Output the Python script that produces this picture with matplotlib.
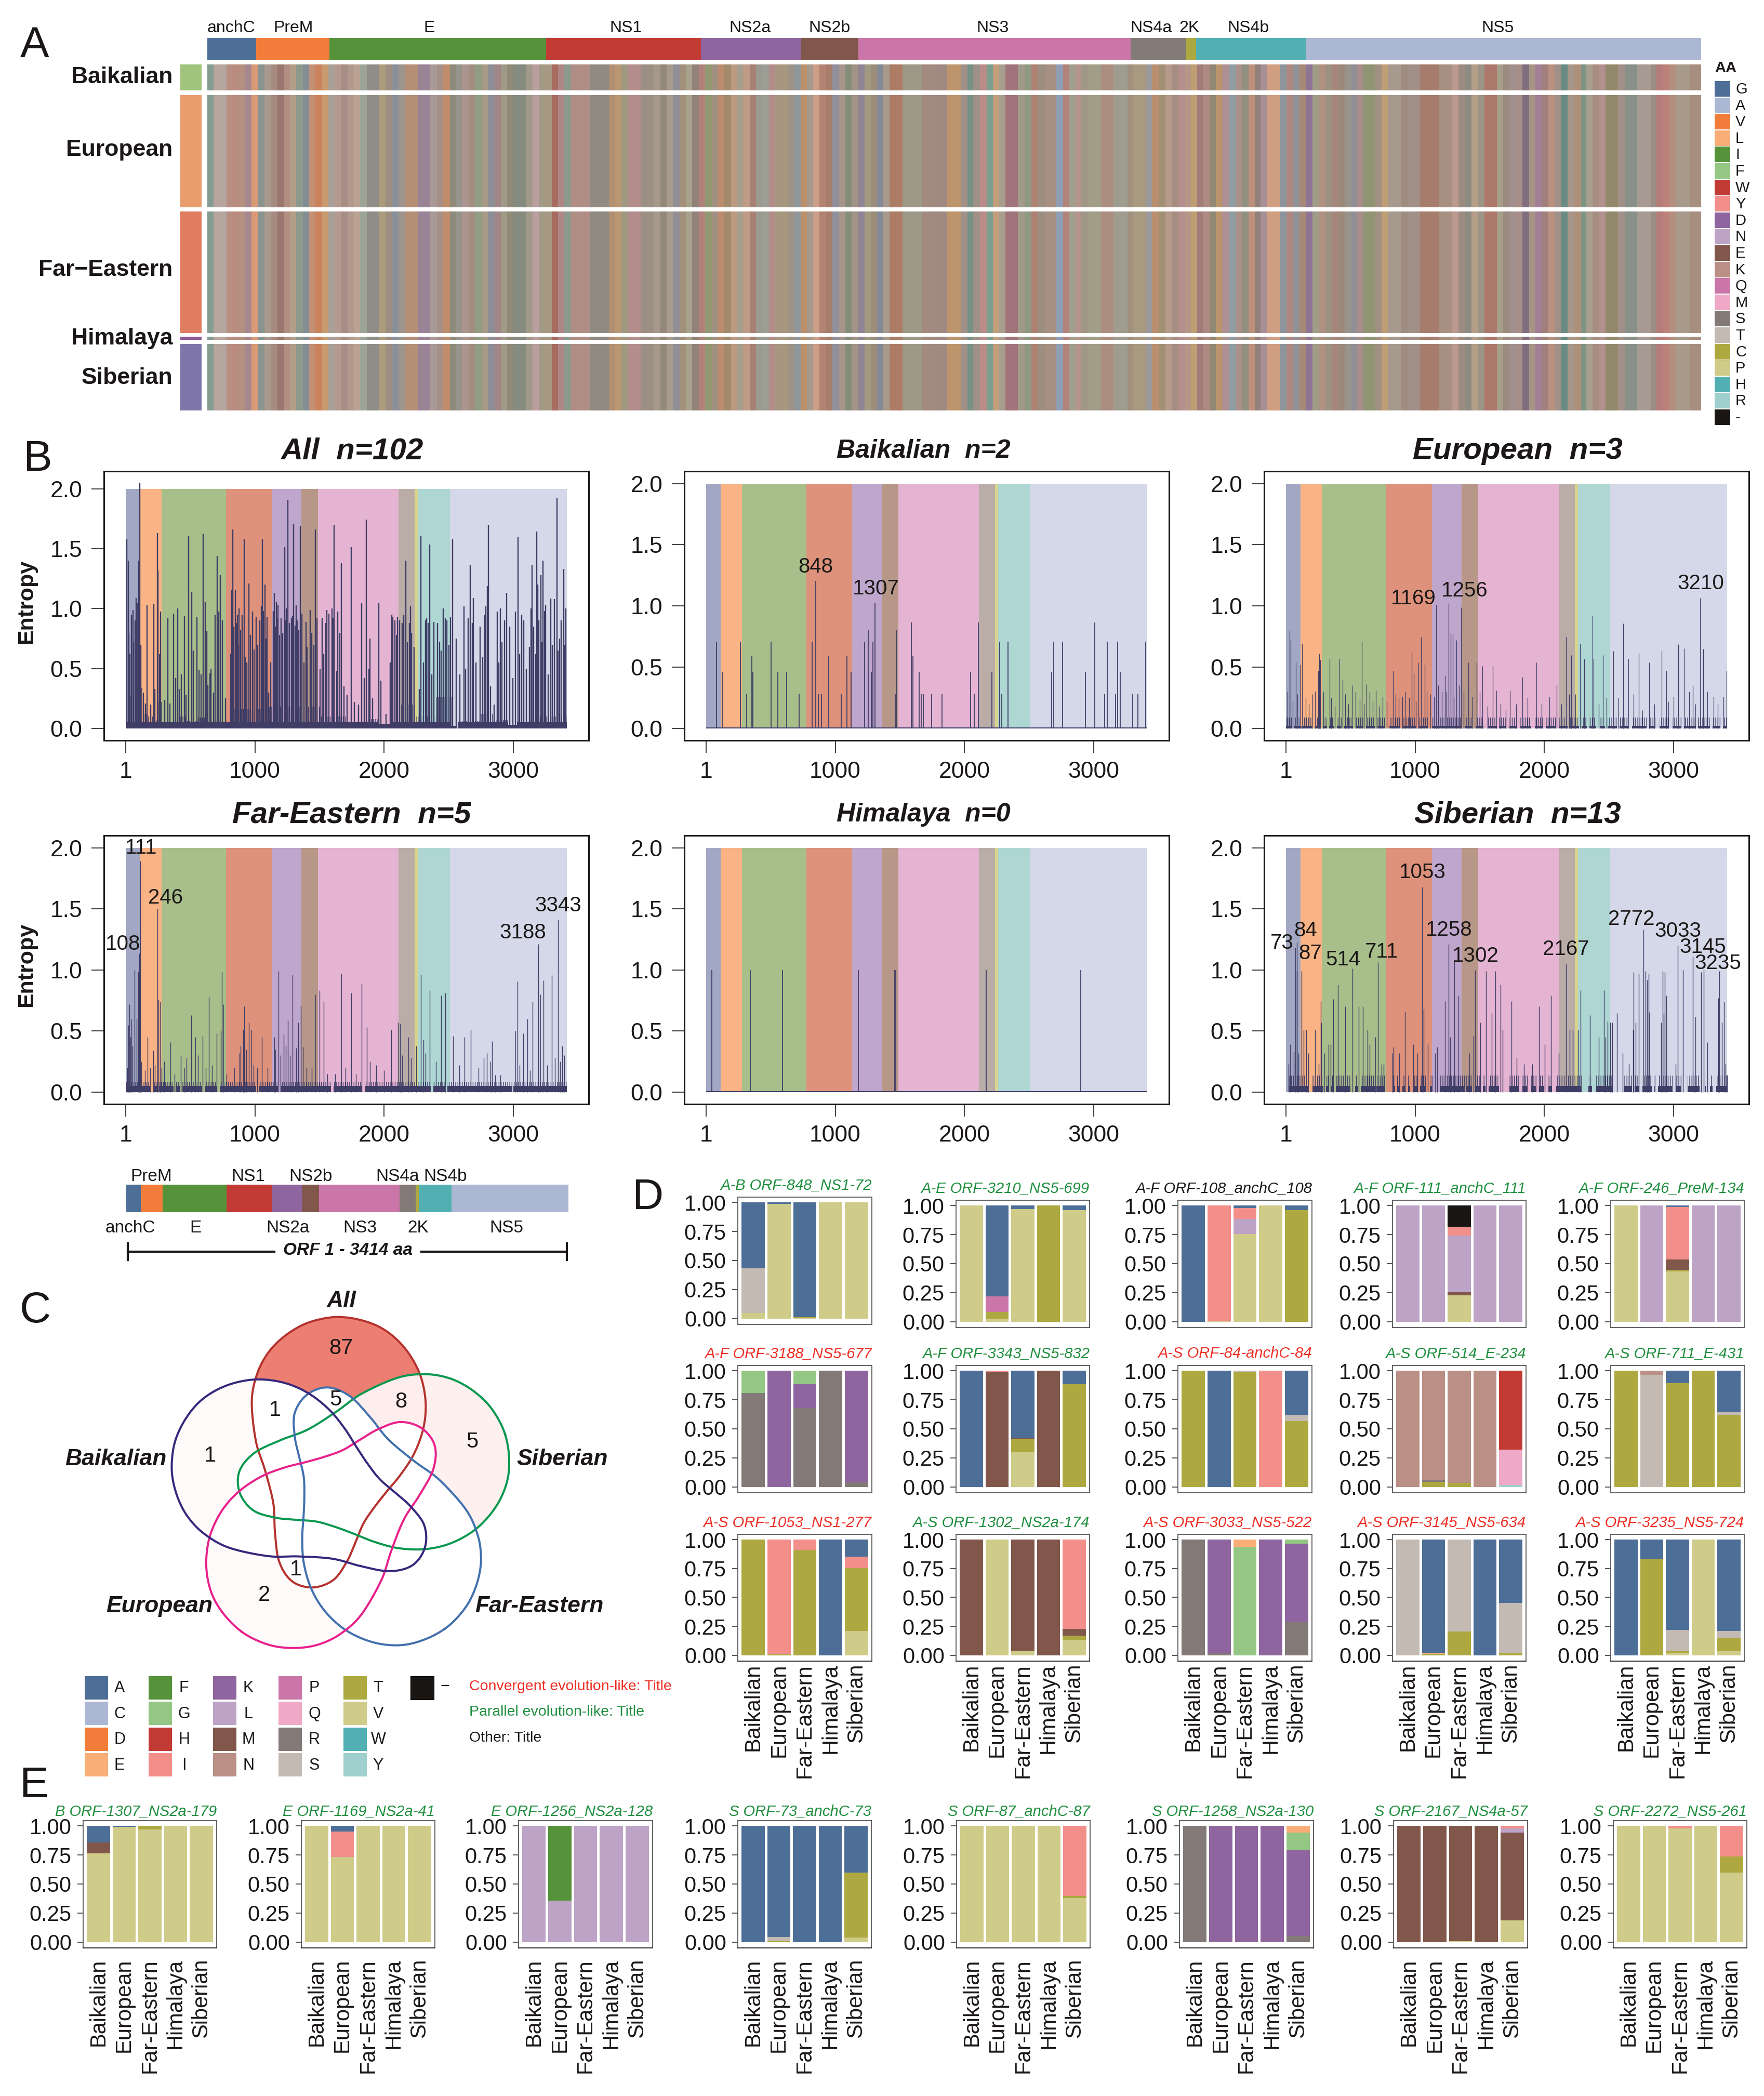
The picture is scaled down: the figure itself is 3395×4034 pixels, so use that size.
import numpy as np
import matplotlib
matplotlib.use('Agg')
import matplotlib.pyplot as plt
from matplotlib.colors import ListedColormap, to_rgba, to_rgb
from matplotlib.path import Path
from matplotlib.transforms import ScaledTranslation

plt.rcParams['font.family'] = ['Liberation Sans', 'DejaVu Sans']
plt.rcParams['hatch.linewidth'] = 1.0
W, H = 3395, 4034
INK = '#1a1716'

# genes
genes = ['anchC', 'PreM', 'E', 'NS1', 'NS2a', 'NS2b', 'NS3', 'NS4a', '2K', 'NS4b', 'NS5']
gene_end = [112, 280, 775, 1129, 1358, 1488, 2110, 2236, 2260, 2511, 3414]
gene_col = ['#4D6F97', '#F27D3B', '#55923A', '#C13A34', '#8E659E', '#81574C', '#CB76A8', '#837A78', '#ADA940', '#52B0B3', '#ACB7D3']
gene_soft = ['#A2A8C4', '#F9B384', '#A9BF8B', '#DE927B', '#BFA6CC', '#B79788', '#E4B4D2', '#BAADA8', '#D8D48C', '#AED6D3', '#D4D8E8']

# amino acid colours
aa_col = dict(A='#4D6F97', C='#ACB7D3', D='#F27D3B', E='#F9AE78', F='#55923A', G='#94C784', H='#C13A34', I='#F28F8B',
              K='#8E659E', L='#BDA3C6', M='#81574C', N='#BA8F86', P='#CB76A8', Q='#EFA8C6', R='#837A78', S='#C3BAB4',
              T='#ADA940', V='#CFCB89', W='#52B0B3', Y='#A0D0CD')
aa_col['-'] = '#1A1613'
aa_heat_order = list('GAVLIFWYDNEKQMSTCPHR-')

# panel A rows
lineages = ['Baikalian', 'European', 'Far\u2212Eastern', 'Himalaya', 'Siberian']
lineage_col = ['#A0C47C', '#E99D6C', '#E07C5F', '#8E5A96', '#7E75A8']

stripe_edges_a = [0,13,26,40,52,66,80,93,107,120,134,147,160,173,186,200,213,227,240,254,267,280,294,307,320,334,360,374,388,401,414,441,467,481,494,508,521,534,548,561,575,588,602,615,628,641,668,682,695,708,722,735,748,762,802,842,855,868,882,908,935,950,963,976,990,1003,1016,1030,1043,1057,1070,1083,1097,1110,1123,1137,1150,1163,1177,1190,1203,1216,1230,1243,1257,1270,1283,1297,1310,1324,1337,1350,1363,1377,1390,1404,1417,1430,1457,1497,1523,1550]
stripe_cols_a = ['#7E9E94','#BBAAA3','#B7A9A2','#B98F82','#BE8A7E','#B79080','#A5858F','#E49A74','#859590','#A89A90','#A8897F','#97716A','#B58C80','#B5A088','#889A8E','#7C8E94','#C98F72','#D07F52','#CE9C6C','#A9A19C','#B69A90','#A88C85','#B59B90','#BEA594','#9AA898','#8C8B88','#AE9E7A','#9A8E80','#85909E','#9D9490','#B78E72','#998099','#AA9A9A','#A58F88','#C48C68','#8A8A78','#94958E','#AD9691','#A08E80','#8D9F83','#A89A85','#898E98','#9F8487','#A09A88','#8D8A75','#7F8A7E','#A39A8A','#BDA0A4','#A39A88','#A89980','#A9645A','#B08585','#899B8E','#B28E85','#8C8A82','#B58F70','#BD9870','#9E9A80','#B78C8E','#9A8F84','#A69A8A','#8F8878','#A99D90','#8E8F98','#A39078','#A8A58C','#8F7F78','#B37F78','#8F9A6F','#A09080','#C08B6A','#A08A68','#C09C80','#A8A090','#C49C88','#A87E72','#9A9A90','#9AA098','#B68A8A','#A89880','#A8987E','#9A9386','#8D98A0','#BF9168','#A89A8C','#D2A088','#B67F6E','#A77A66','#8C8FA0','#A8968C','#7F8C78','#A09488','#8D8398','#A09A80','#9A8C78','#7F8698','#A89A8C','#AF7860','#9A9A88','#A3897E','#9E8880']
stripe_edges_b = [115,138,150,160,172,184,195,205,217,240,252,264,276,288,308,320,330,342,352,364,388,410,435,445,468,478,490,502,513,525,537,548,559,570,582,592,603,615,627,638,650,661,672,684,706,718,730,741,752,764,775,787,798,810,822,833,843,855,876,887,899,922,934,956,990,1012,1024,1035,1047,1058,1070,1092,1104,1116,1127,1138,1150,1161,1173,1184,1195,1206,1218,1230,1242,1252,1263,1275,1286,1308,1320,1342,1366,1376,1388,1400,1412,1436,1456]
stripe_cols_b = ['#C09668','#A09088','#6E9288','#9C9088','#BE8B8A','#75A090','#C8A078','#A8A090','#A06E78','#A09A8A','#8A9A80','#B07F70','#9A8F80','#A89080','#8BA0BE','#B48078','#A0A08E','#B8958F','#A09888','#A0A088','#AD8D80','#9E9E92','#A0907C','#A89C80','#9A9AA0','#BE8F6C','#A09070','#B89A8C','#A68C80','#B88F90','#B89888','#C4A070','#A07A78','#B08880','#8E8770','#BE9668','#B08F96','#8BA0A8','#A8918A','#8E9080','#C09078','#8E7C78','#A89098','#D8A080','#8894A0','#B08880','#8C9298','#A88878','#8A7098','#A09E88','#B29080','#9C9280','#A8847A','#9A8878','#97948C','#8C8F98','#A88E8C','#8C9470','#A09080','#C4A072','#A69A90','#9E8C80','#A09088','#A67868','#A89082','#C09A90','#9A8A80','#888A80','#B8A088','#9A9484','#AE7468','#A8A08A','#9A8A80','#A09090','#A88C88','#7A687E','#A89488','#A07C98','#A07C78','#BE9080','#A09088','#5E8A84','#A8988C','#B09078','#7A9484','#A8A090','#A88E80','#B59090','#8F8868','#A09088','#84908A','#A69C94','#9A8C84','#B87878','#C07E78','#B88F7C','#A89C8C','#A88E7E']

# panel B, (position, entropy) for spikes and (start, end, height) for the dense base
all_spikes = [(109,2.05),(7,1.58),(19,1.40),(56,.99),(81,1.09),(100,1.40),(106,1.2),(247,1.63),(167,1.03),(217,1.04),(250,1.32),(272,.975),(327,.925),(371,.96),(401,1.0),(457,.94),(488,1.61),(512,1.14),(552,.93),(599,1.62),(614,1.06),(629,.81),(709,1.44),(691,.95),(722,.975),(734,1.28),(654,.46),(820,1.155),(829,1.66),(848,1.155),(864,.95),(879,1.0),(916,1.58),(953,1.21),(980,.975),(1011,.93),(1051,1.02),(1060,1.58),(1079,1.2),(1094,.93),(1150,1.13),(1168,1.06),(1180,1.03),(1230,1.515),(1257,1.91),(1245,1.0),(1282,.92),(1301,1.71),(1319,1.03),(1353,1.69),(1396,.89),(1427,.99),(1470,1.66),(1519,.92),(1556,.99),(1596,1.0),(1615,1.70),(1642,.975),(1670,1.38),(1747,1.515),(1827,1.05),(1864,1.745),(1889,.75),(1957,1.05),(2059,.95),(2105,.93),(2166,1.40),(2203,1.02),(2286,1.61),(2330,.92),(2354,1.535),(2385,.89),(2428,.725),(2459,1.0),(2514,.93),(2530,1.58),(2557,.75),(2619,1.02),(2668,1.36),(2690,1.09),(2788,1.02),(2807,1.70),(2801,1.19),(2875,.975),(2899,1.0),(2948,1.13),(3016,.975),(3035,1.60),(3065,.95),(3145,1.36),(3179,1.645),(3188,1.2),(3213,1.28),(3231,1.40),(3250,1.03),(3290,1.085),(3339,1.92),(3358,.75),(3389,1.33),(3407,1.0),
    (24,.8),(33,.62),(47,.95),(63,.72),(72,.9),(91,1.05),(118,.7),(137,.3),(152,.21),(193,.2),(226,.33),(262,.62),(301,.24),(344,.21),(388,.42),(415,.33),(433,.45),(468,.28),(524,.65),(566,.49),(583,.45),(638,.36),(662,.5),(681,.3),(748,.9),(771,.25),(812,.62),(838,.85),(857,.88),(871,.7),(889,.82),(903,.95),(925,.6),(938,.55),(967,.78),(994,.66),(1022,.7),(1037,.9),(1068,.98),(1087,.75),(1106,.3),(1122,.55),(1141,.98),(1159,.85),(1172,.92),(1191,.78),(1203,.92),(1216,.8),(1238,.9),(1268,.88),(1291,.94),(1310,.86),(1328,.9),(1341,.82),(1362,.96),(1378,.55),(1404,.68),(1439,.8),(1456,.7),(1482,.92),(1503,.5),(1531,.62),(1548,.88),(1573,.96),(1604,.92),(1632,.48),(1658,.8),(1689,.35),(1712,.28),(1768,.22),(1803,.2),(1846,.42),(1881,.5),(1912,.25),(1976,.4),(2014,.12),(2046,.55),(2068,.93),(2082,.9),(2094,.78),(2121,.9),(2138,.88),(2152,.95),(2179,.72),(2196,.88),(2214,.8),(2231,.68),(2271,.33),(2303,.55),(2322,.9),(2341,.88),(2368,.45),(2412,.88),(2441,.65),(2472,.92),(2486,.9),(2502,.7),(2586,.45),(2632,.5),(2651,.92),(2682,.88),(2712,.55),(2741,.85),(2763,.6),(2778,.95),(2822,.35),(2853,.2),(2886,.55),(2913,.72),(2931,.9),(2972,.85),(2996,.42),(3047,.62),(3082,.9),(3101,.5),(3124,.68),(3137,1.0),(3156,.85),(3171,.62),(3199,.9),(3222,.72),(3241,.98),(3268,.45),(3302,.7),(3318,1.08),(3346,.65),(3371,.9),(3398,.7)]
all_base = [(1,40,.27),(40,130,.34),(130,170,.12),(170,210,.1),(210,250,.07),(250,285,.22),(285,410,.05),(410,470,.1),(470,560,.06),(560,620,.09),(620,810,.05),(810,1110,.16),(1110,1500,.18),(1500,1700,.1),(1700,1850,.05),(1850,1950,.08),(1950,2050,.04),(2050,2240,.2),(2240,2400,.1),(2400,2520,.26),(2520,2560,.02),(2570,2750,.06),(2750,2850,.12),(2850,2960,.07),(2960,3030,.03),(3030,3120,.05),(3120,3414,.1)]
baik_spikes = [(81,.71),(124,.46),(268,.71),(316,.28),(353,.595),(364,.46),(502,.71),(556,.46),(625,.46),(721,.28),(822,.71),(849,1.205),(870,.28),(892,.28),(950,.595),(1046,.28),(1089,.595),(1121,.46),(1228,.71),(1254,.8),(1281,.46),(1292,.71),(1308,1.026),(1468,.28),(1473,.8),(1590,.865),(1601,.595),(1649,.46),(1665,.28),(1681,.28),(1745,.28),(1825,.28),(2049,.46),(2076,.28),(2107,.865),(2214,.46),(2273,.71),(2289,.28),(2337,.71),(2673,.46),(2689,.71),(2758,.71),(2934,.46),(3009,.865),(3084,.28),(3105,.71),(3169,.28),(3185,.71),(3206,.46),(3303,.28),(3340,.28),(3403,.71)]
thin_base = [(1,3414,.008)]
euro_spikes = [(28,.80),(38,.72),(76,.54),(108,.52),(124,.69),(257,.61),(268,.56),(250,.47),(337,.57),(412,.57),(438,.40),(513,.35),(588,.71),(625,.36),(695,.31),(748,.26),(828,.47),(903,.26),(972,.62),(988,.45),(1025,.54),(1046,.745),(1073,.52),(1164,1.01),(1260,1.023),(1276,.77),(1292,.77),(1319,.72),(1233,.43),(1356,.99),(1414,.54),(1478,.54),(1521,.51),(1601,.51),(1628,.31),(1735,.31),(1830,.42),(1937,.54),(2097,.35),(2166,.745),(2210,.6),(2278,.69),(2310,.57),(2379,.57),(2374,.92),(2454,.6),(2534,.63),(2609,.856),(2651,.57),(2731,.61),(2811,.54),(2907,.63),(2944,.47),(3036,.685),(3079,.655),(3148,.35),(3206,1.066),(3228,.65),(3308,.26),(3388,.26),(3409,.47),
    (14,.3),(52,.22),(88,.28),(152,.25),(178,.2),(205,.28),(228,.3),(290,.3),(352,.25),(378,.18),(460,.28),(482,.2),(540,.3),(570,.24),(605,.2),(650,.3),(672,.22),(722,.18),(780,.22),(848,.28),(872,.25),(925,.3),(955,.25),(1005,.22),(1090,.3),(1120,.28),(1145,.26),(1180,.35),(1205,.3),(1245,.3),(1300,.25),(1340,.35),(1375,.3),(1440,.26),(1500,.3),(1560,.18),(1660,.2),(1700,.15),(1780,.2),(1870,.25),(1980,.2),(2040,.26),(2130,.2),(2190,.28),(2240,.28),(2420,.2),(2480,.25),(2570,.25),(2690,.28),(2760,.15),(2850,.2),(2960,.22),(3000,.26),(3120,.3),(3170,.2),(3260,.3),(3340,.2)]
euro_base = [(a,b,.09) for a,b in [(1,50),(60,120),(135,200),(225,255),(285,320),(335,370),(395,430),(450,520),(540,600),(620,690),(710,770),(800,880),(900,1010),(1030,1100),(1130,1360),(1385,1440),(1470,1530),(1560,1630),(1650,1700),(1730,1790),(1815,1900),(1925,1990),(2010,2090),(2110,2180),(2200,2270),(2290,2330),(2350,2400),(2430,2470),(2490,2560),(2580,2650),(2680,2790),(2810,2860),(2890,2960),(2990,3060),(3080,3170),(3190,3280),(3300,3360),(3380,3414)]]
fe_spikes = [(28,.72),(45,.6),(70,1.0),(97,.985),(107,1.137),(112,1.89),(171,.45),(212,.34),(246,1.50),(256,.756),(268,.74),(347,.41),(427,.30),(506,.627),(538,.45),(597,.46),(644,.776),(703,.48),(745,.98),(735,.5),(756,.72),(890,.38),(910,.51),(916,.70),(953,.57),(974,.51),(1054,.45),(1150,.45),(1182,.99),(1225,.47),(1256,.585),(1293,.96),(1336,.57),(1357,.705),(1373,.37),(1469,.80),(1501,.835),(1533,.74),(1671,.97),(1745,.81),(1825,.89),(1868,.53),(2054,.51),(2107,.57),(2123,.56),(2187,.45),(2283,.96),(2304,.43),(2352,.835),(2443,.79),(2474,.81),(2533,.46),(2623,.45),(2670,.51),(2836,.415),(2795,.32),(2822,.25),(3017,.5),(3032,.907),(3075,.48),(3107,.6),(3149,.74),(3192,1.21),(3208,.80),(3235,.914),(3298,.958),(3346,1.41),(3378,.38),(3394,.30),
    (12,.2),(20,.55),(36,.45),(55,.38),(85,.6),(120,.25),(150,.18),(190,.2),(228,.22),(280,.2),(300,.25),(380,.15),(455,.2),(470,.28),(560,.3),(620,.2),(670,.22),(780,.15),(840,.2),(880,.32),(935,.35),(990,.22),(1020,.2),(1100,.2),(1160,.35),(1200,.3),(1240,.38),(1270,.3),(1320,.36),(1400,.2),(1440,.2),(1560,.15),(1620,.15),(1700,.2),(1780,.15),(1890,.25),(1940,.22),(2000,.18),(2140,.3),(2210,.28),(2250,.38),(2320,.32),(2400,.25),(2580,.22),(2730,.2),(2770,.28),(2860,.14),(2900,.14),(3050,.22),(3130,.18),(3260,.22),(3320,.28),(3360,.25)]
fe_base = [(a,b,.085) for a,b in [(1,100),(112,190),(215,250),(260,370),(385,425),(440,590),(610,710),(730,1010),(1030,1180),(1200,1590),(1610,1830),(1850,2360),(2380,2470),(2490,2990),(3000,3414)]]
hima_spikes = [(44,1.0),(341,1.0),(591,1.0),(1177,1.0),(1459,1.0),(1470,1.0),(2166,1.0),(2900,1.0)]
sib_spikes = [(21,.23),(35,.39),(60,.33),(73,1.18),(84,1.23),(87,.99),(98,.32),(122,.99),(136,.51),(158,.51),(172,.32),(225,.51),(256,.23),(270,.745),(274,.57),(298,.32),(330,.39),(347,.39),(366,.76),(402,.88),(458,.70),(562,.70),(517,1.01),(596,.70),(632,.51),(648,.39),(691,.45),(714,1.064),(740,.23),(757,.23),(824,.32),(832,.37),(879,.32),(921,.66),(985,.39),(1019,.32),(1056,1.68),(1068,.68),(1100,.39),(1155,.32),(1169,.37),(1230,.745),(1259,1.21),(1273,.45),(1304,1.085),(1334,.79),(1420,.32),(1452,.46),(1466,1.0),(1505,.57),(1550,.99),(1592,.645),(1620,.99),(1660,.88),(1677,.51),(1747,.745),(1786,.28),(1843,.23),(1905,.23),(1958,.70),(2005,.39),(2053,.79),(2110,.32),(2168,1.05),(2195,.51),(2222,.51),(2260,.51),(2280,.834),(2353,.63),(2420,.45),(2463,.834),(2490,.58),(2475,.45),(2508,.57),(2524,.57),(2561,.645),(2606,.32),(2655,.23),(2687,.51),(2690,.98),(2708,.57),(2732,.97),(2768,1.33),(2782,.99),(2793,.92),(2807,.97),(2810,.655),(2903,.57),(2917,.99),(2931,.98),(2942,.79),(2923,.645),(3018,.23),(3032,1.2),(3074,1.0),(3147,1.11),(3167,.615),(3212,.98),(3232,1.0),(3262,.41),(3344,.77),(3355,.99),(3372,.57),(3391,.74),(3402,.23),(3414,.14)]
sib_base = [(a,b,.135) for a,b in [(25,170),(205,290),(310,335),(345,375),(385,500),(535,560),(580,690),(700,770),(830,845),(860,880),(900,925),(945,960),(985,1020),(1040,1085),(1115,1135),(1190,1385),(1395,1440),(1465,1510),(1525,1545),(1570,1650),(1730,1800),(1830,1870),(1900,1940),(1960,2000),(2030,2060),(2090,2290),(2340,2370),(2400,2530),(2620,2680),(2700,2730),(2760,2830),(2850,2860),(2880,2990),(3020,3060),(3110,3200),(3240,3250),(3280,3300),(3330,3414)]]

entropy_titles = ['All  n=102', 'Baikalian  n=2', 'European  n=3', 'Far-Eastern  n=5', 'Himalaya  n=0', 'Siberian  n=13']
entropy_spikes = [all_spikes, baik_spikes, euro_spikes, fe_spikes, hima_spikes, sib_spikes]
entropy_base = [all_base, thin_base, euro_base, fe_base, thin_base, sib_base]
base_solid = [.05, .008, .02, .05, .008, .05]
spike_lw = [1.7, 1.3, .9, 1.0, 1.3, 1.0]
entropy_labels = [
    [],
    [('848',849,1.32),('1307',1313,1.14)],
    [('1169',987,1.062),('1256',1382,1.122),('3210',3211,1.184)],
    [('111',118,1.996),('108',-20,1.21),('246',310,1.59),('3188',3075,1.305),('3343',3346,1.525)],
    [],
    [('73',-30,1.22),('84',150,1.32),('87',189,1.136),('514',442,1.085),('711',742,1.147),('1053',1057,1.80),('1258',1262,1.326),('1302',1467,1.115),('2167',2167,1.168),('2772',2672,1.416),('3033',3035,1.317),('3145',3226,1.187),('3235',3344,1.055)],
]

# stacked bars, one list per site: for each lineage (residue, lower edge) from the top down
groups = ['Baikalian', 'European', 'Far-Eastern', 'Himalaya', 'Siberian']
GREEN, RED, BLACK = '#1F8F3E', '#EE2E24', '#1a1716'
V, L, M, T, A, R, K, N = [('V',0)], [('L',0)], [('M',0)], [('T',0)], [('A',0)], [('R',0)], [('K',0)], [('N',0)]
orf848 = [[('A',.431),('S',.047),('V',0)], [('A',.988),('V',0)], [('A',.012),('T',.004),('V',0)], V, V]
orf3210 = [V, [('A',.219),('P',.084),('T',.028),('V',0)], [('A',.969),('V',0)], T, [('A',.96),('V',0)]]
orf108 = [A, [('I',.01),('V',0)], [('A',.978),('I',.884),('L',.753),('V',0)], V, [('A',.96),('T',0)]]
orf111 = [L, L, [('-',.815),('I',.74),('L',.256),('M',.225),('V',0)], L, L]
orf246 = [V, L, [('A',.988),('I',.534),('M',.447),('T',.434),('V',0)], L, L]
orf3188 = [[('G',.809),('R',0)], K, [('G',.884),('K',.68),('R',0)], R, [('K',.038),('R',0)]]
orf3343 = [A, [('I',.988),('M',0)], [('A',.42),('M',.41),('T',.298),('V',0)], M, [('A',.884),('T',0)]]
orf84 = [T, A, [('S',.988),('T',0)], [('I',0)], [('A',.62),('S',.567),('T',0)]]
orf514 = [N, [('N',.056),('R',.044),('T',0)], [('N',.034),('T',0)], N, [('H',.32),('Q',.016),('Y',0)]]
orf711 = [T, [('N',.965),('S',0)], [('A',.893),('T',0)], T, [('A',.643),('S',.62),('T',0)]]
orf1053 = [T, [('I',.012),('T',0)], [('I',.909),('T',0)], A, [('A',.85),('I',.755),('T',.21),('V',0)]]
orf1302 = [M, V, [('M',.04),('V',0)], M, [('I',.229),('M',.169),('T',.135),('V',0)]]
orf3033 = [R, [('K',.022),('R',0)], [('E',.937),('G',0)], K, [('G',.962),('K',.288),('R',0)]]
orf3145 = [[('S',0)], [('A',.022),('E',.012),('T',0)], [('S',.207),('T',0)], A, [('A',.451),('S',.022),('T',0)]]
orf3235 = [A, [('A',.83),('T',0)], [('A',.219),('S',.034),('T',.022),('V',0)], V, [('A',.21),('S',.15),('T',.034),('V',0)]]
orf1307 = [[('A',.857),('M',.762),('V',0)], [('A',.99),('V',0)], [('T',.968),('V',0)], V, V]
orf1169 = [V, [('A',.952),('I',.73),('V',0)], V, V, V]
orf1256 = [L, [('F',.357),('L',0)], L, L, L]
orf73 = [A, [('A',.043),('S',.01),('T',0)], A, A, [('A',.6),('T',.038),('V',0)]]
orf87 = [V, V, V, V, [('I',.398),('T',.378),('V',0)]]
orf1258 = [R, K, K, K, [('E',.94),('G',.79),('K',.052),('R',0)]]
orf2167 = [M, M, [('M',.01),('V',0)], M, [('I',.98),('L',.94),('M',.187),('V',0)]]
orf2272 = [V, V, [('I',.977),('V',0)], V, [('I',.735),('T',.6),('V',0)]]

d_sites = [orf848, orf3210, orf108, orf111, orf246, orf3188, orf3343, orf84, orf514, orf711, orf1053, orf1302, orf3033, orf3145, orf3235]
d_titles = ['A-B ORF-848_NS1-72', 'A-E ORF-3210_NS5-699', 'A-F ORF-108_anchC_108', 'A-F ORF-111_anchC_111', 'A-F ORF-246_PreM-134',
            'A-F ORF-3188_NS5-677', 'A-F ORF-3343_NS5-832', 'A-S ORF-84-anchC-84', 'A-S ORF-514_E-234', 'A-S ORF-711_E-431',
            'A-S ORF-1053_NS1-277', 'A-S ORF-1302_NS2a-174', 'A-S ORF-3033_NS5-522', 'A-S ORF-3145_NS5-634', 'A-S ORF-3235_NS5-724']
d_title_col = [GREEN, GREEN, BLACK, GREEN, GREEN, RED, GREEN, RED, GREEN, GREEN, RED, GREEN, RED, RED, RED]
e_sites = [orf1307, orf1169, orf1256, orf73, orf87, orf1258, orf2167, orf2272]
e_titles = ['B ORF-1307_NS2a-179', 'E ORF-1169_NS2a-41', 'E ORF-1256_NS2a-128', 'S ORF-73_anchC-73', 'S ORF-87_anchC-87', 'S ORF-1258_NS2a-130', 'S ORF-2167_NS4a-57', 'S ORF-2272_NS5-261']

# venn
venn_names = ['All', 'Siberian', 'Far-Eastern', 'European', 'Baikalian']
venn_col = ['#B5322F', '#0A9850', '#4270AE', '#E8218C', '#36287B']
venn_counts = [('87',823,495), ('1',664,645), ('5',811,620), ('8',968,625), ('5',1140,722), ('1',507,755), ('1',715,1030), ('2',638,1092)]
all_outline = [(818,420),(870,427),(920,446),(962,478),(995,520),(1018,570),(1028,630),(1022,690),(1000,750),(968,800),(935,840),(905,878),(878,918),(858,965),(838,1010),(805,1055),(755,1073),(705,1058),(674,1010),(664,940),(660,870),(640,790),(618,720),(608,625),(620,560),(645,510),(680,472),(725,442),(770,426)]

fig = plt.figure(figsize=(W / 100, H / 100), dpi=100)


def px_axes(x0, y0, x1, y1, **kw):
    return fig.add_axes([x0 / W, 1 - y1 / H, (x1 - x0) / W, (y1 - y0) / H], **kw)


def gene_bar(ax):
    starts = [1] + gene_end[:-1]
    ax.barh(0, np.array(gene_end) - np.array(starts), left=starts, height=1, color=gene_col)
    ax.set_xlim(1, 3414)
    ax.set_ylim(-.5, .5)
    ax.axis('off')


# ---- A ----
gene_bar(px_axes(399, 73, 3274, 115))
heat_rows = [(124, 174), (183, 399), (407, 641), (648, 654), (662, 790)]
edges = np.r_[399 + np.array(stripe_edges_a) * 0.9184, 1700 + np.array(stripe_edges_b[1:]) * 1.081]
cols = stripe_cols_a + stripe_cols_b
# the stripes look washed out in the original, pull them a bit to the mean
cols_rgb = np.array([to_rgb(c) for c in cols])
cols_rgb = cols_rgb * .85 + cols_rgb.mean(axis=0) * .15
for (y0, y1), c in zip(heat_rows, lineage_col):
    ax = px_axes(399, y0, 3274, y1)
    ax.pcolormesh(edges, [0, 1], np.arange(len(cols))[None, :], cmap=ListedColormap(cols_rgb), rasterized=True)
    ax.axis('off')
    side = px_axes(347, y0, 388, y1)
    side.set_facecolor(c)
    side.set_xticks([])
    side.set_yticks([])
    for s in side.spines.values():
        s.set_visible(False)

for i, a in enumerate(aa_heat_order):
    ax = px_axes(3300, 156 + i * 31.6, 3330, 186 + i * 31.6)
    ax.set_facecolor(aa_col[list('ACDEFGHIKLMNPQRSTVWY-')[i]])
    ax.set_xticks([])
    ax.set_yticks([])
    for s in ax.spines.values():
        s.set_visible(False)

# ---- B ----
frames = [(200, 907, 1133, 1425), (1317, 907, 2250, 1425), (2433, 907, 3366, 1425),
          (200, 1608, 1133, 2125), (1317, 1608, 2250, 2125), (2433, 1608, 3366, 2125)]
for i, box in enumerate(frames):
    ax = px_axes(*box)
    starts = [1] + gene_end[:-1]
    ax.bar(starts, 2.0, width=np.array(gene_end) - np.array(starts), align='edge', color=gene_soft, linewidth=0)
    spikes = np.array(entropy_spikes[i])
    ax.vlines(spikes[:, 0], 0, spikes[:, 1], color='#3F3D66', lw=spike_lw[i])
    base = np.array(entropy_base[i])
    widths = base[:, 1] - base[:, 0]
    solid = np.minimum(base[:, 2], base_solid[i])
    ax.bar(base[:, 0], solid, width=widths, align='edge', color='#3F3D66', linewidth=0)
    # thin comb of short spikes above the solid part
    ax.bar(base[:, 0], base[:, 2] - solid, bottom=solid, width=widths, align='edge', facecolor='none',
           edgecolor='#3F3D66', hatch='||||', linewidth=0)
    for txt, x, y in entropy_labels[i]:
        ax.text(x, y, txt, ha='center', va='center', fontsize=29, color=INK, zorder=5)
    ax.set_xlim(-168, 3583)
    ax.set_ylim((-.1, 2.147) if i == 0 else (-.098, 2.1))
    ax.set_xticks([1, 1000, 2000, 3000])
    ax.set_xticklabels(['1', '1000', '2000', '3000'])
    ax.set_yticks([0, .5, 1, 1.5, 2])
    ax.set_yticklabels(['0.0', '0.5', '1.0', '1.5', '2.0'])
    ax.tick_params(axis='x', length=17, width=1.5, pad=12, labelsize=32, color='#444444', labelcolor=INK)
    ax.tick_params(axis='y', length=17, width=1.5, pad=13, labelsize=32, color='#444444', labelcolor=INK)
    for s in ax.spines.values():
        s.set_linewidth(2.2)
        s.set_color(INK)

# gene bar under B
gene_bar(px_axes(243, 2280, 1094, 2333))

# ---- C venn ----
vx0, vy0, vx1, vy1 = 300, 2500, 1010, 3200
vax = px_axes(vx0, vy0, vx1, vy1)
pts = np.array(all_outline, float) * 0.797 + [0, 2200]
n = len(pts)
smooth = []
for k in range(n):
    p0, p1, p2, p3 = pts[k - 1], pts[k], pts[(k + 1) % n], pts[(k + 2) % n]
    for t in np.linspace(0, 1, 24, endpoint=False):
        smooth.append(.5 * (2 * p1 + (p2 - p0) * t + (2 * p0 - 5 * p1 + 4 * p2 - p3) * t**2 + (3 * p1 - p0 - 3 * p2 + p3) * t**3))
smooth = np.array(smooth)
centre = np.array([824 * .797, 838 * .797 + 2200])
outlines = []
for k in range(5):
    ang = np.radians(72 * k)
    d = smooth - centre
    outlines.append(np.c_[d[:, 0] * np.cos(ang) - d[:, 1] * np.sin(ang), d[:, 0] * np.sin(ang) + d[:, 1] * np.cos(ang)] + centre)
gx, gy = np.meshgrid(np.arange(vx0, vx1) + .5, np.arange(vy0, vy1) + .5)
grid = np.c_[gx.ravel(), gy.ravel()]
inside = [Path(o).contains_points(grid).reshape(gx.shape) for o in outlines]
code = sum(m * (1 << k) for k, m in enumerate(inside))
img = np.ones(gx.shape + (4,))
region_fill = {1: '#ED7F72', 3: '#FDEDEC', 2: '#FDF0EF', 8: '#FFFAFA', 16: '#FFFAFA'}
for key, c in region_fill.items():
    img[code == key] = to_rgba(c)
vax.imshow(img, extent=(vx0, vx1, vy1, vy0), aspect='auto', interpolation='nearest')
for o, c in zip(outlines, venn_col):
    vax.plot(np.r_[o[:, 0], o[0, 0]], np.r_[o[:, 1], o[0, 1]], color=c, lw=2.9)
vax.set_xlim(vx0, vx1)
vax.set_ylim(vy1, vy0)
vax.axis('off')
for txt, x, y in venn_counts:
    vax.text(x * .797, y * .797 + 2200, txt, fontsize=30, ha='center', va='center', color=INK)

# legend swatches
leg_x = [163, 286, 410, 536, 661]
leg_y = [3226, 3275, 3325, 3374]
leg_aa = ['ACDE', 'FGHI', 'KLMN', 'PQRS', 'TVWY']
for x, letters in zip(leg_x, leg_aa):
    for y, a in zip(leg_y, letters):
        ax = px_axes(x, y, x + 45, y + 45)
        ax.set_facecolor(aa_col[a])
        ax.set_xticks([])
        ax.set_yticks([])
        for s in ax.spines.values():
            s.set_visible(False)
ax = px_axes(790, 3226, 835, 3271)
ax.set_facecolor(aa_col['-'])
ax.set_xticks([])
ax.set_yticks([])


# ---- D / E ----
def stack_panel(box, site, title, colour, labels, pad, title_y):
    ax = px_axes(*box)
    for i, col in enumerate(site):
        top = 1.0
        for aa, low in col:
            ax.bar(i + 1, top - low, bottom=low, width=.9, color=aa_col[aa], linewidth=0)
            top = low
    ax.set_xlim(.4, 5.6)
    ax.set_ylim(-.05, 1.045)
    ax.set_yticks([0, .25, .5, .75, 1])
    ax.set_yticklabels(['0.00', '0.25', '0.50', '0.75', '1.00'])
    ax.set_xticks([1, 2, 3, 4, 5])
    if labels:
        ax.set_xticklabels(groups, rotation=90, ha='center', va='top')
        shift = ScaledTranslation(-5 / 100, 0, fig.dpi_scale_trans)
        for lab in ax.get_xticklabels():
            lab.set_transform(lab.get_transform() + shift)
    else:
        ax.set_xticklabels([])
    ax.tick_params(axis='x', length=0, pad=pad, labelsize=30, labelcolor=INK)
    ax.tick_params(axis='y', length=8, width=1.3, pad=8, labelsize=30, color='#444444', labelcolor=INK)
    for s in ax.spines.values():
        s.set_linewidth(1.3)
        s.set_color('#555555')
    if labels:
        ax.spines['bottom'].set_color(INK)
    ax.text(1, title_y, title, transform=ax.transAxes, ha='right', va='bottom', fontsize=21, style='italic', color=colour)


d_x = [(1420, 1678), (1840, 2097), (2267, 2525), (2680, 2937), (3100, 3357)]
d_y = [(2310, 2555), (2628, 2873), (2953, 3197)]
for i, site in enumerate(d_sites):
    r, c = divmod(i, 5)
    y0, y1 = d_y[r]
    if i == 0:
        y0, y1 = 2304, 2549
    stack_panel((d_x[c][0], y0, d_x[c][1], y1), site, d_titles[i], d_title_col[i], r == 2, 3.5, 1.035)

e_x = [(160, 417), (580, 837), (998, 1256), (1420, 1677), (1841, 2098), (2270, 2528), (2682, 2940), (3105, 3362)]
for i, site in enumerate(e_sites):
    stack_panel((e_x[i][0], 3504, e_x[i][1], 3749), site, e_titles[i], GREEN, True, 15, 1.012)

# ---- text layer in picture pixels ----
top = fig.add_axes([0, 0, 1, 1], facecolor='none')
top.set_xlim(0, W)
top.set_ylim(H, 0)
top.axis('off')


def put(x, y, s, size, **kw):
    kw.setdefault('ha', 'center')
    kw.setdefault('va', 'center')
    kw.setdefault('color', INK)
    top.text(x, y + 3, s, fontsize=size, **kw)


for s, x, y in [('A', 67, 85), ('B', 72, 881), ('C', 68, 2520), ('D', 1246, 2302), ('E', 65, 3434)]:
    put(x, y, s, 60)

for name, y in zip(lineages, [145, 285, 516, 648, 724]):
    put(332, y, name, 32, ha='right', weight='bold')
gene_x = [445, 565, 826, 1204, 1444, 1596, 1910, 2216, 2289, 2402, 2883]
for g, x in zip(genes, gene_x):
    put(x, 51, g, 23)
put(3300, 128, 'AA', 21, ha='left', weight='bold')
for i, a in enumerate(aa_heat_order):
    put(3340, 169 + i * 31.6, a, 21, ha='left')

title_x = [677, 1777, 2921]
title_size = [42, 36, 42]
for i, t in enumerate(entropy_titles):
    put(title_x[i % 3], 865 if i < 3 else 1565, t, title_size[i % 3], weight='bold', style='italic')
put(51, 1155, 'Entropy', 31, weight='bold', rotation=90)
put(51, 1854, 'Entropy', 31, weight='bold', rotation=90)

for g, x in zip(['PreM', 'NS1', 'NS2b', 'NS4a', 'NS4b'], [291, 478, 598, 765, 857]):
    put(x, 2261, g, 24)
for g, x in zip(['anchC', 'E', 'NS2a', 'NS3', '2K', 'NS5'], [251, 376, 554, 693, 805, 975]):
    put(x, 2360, g, 24)
top.plot([245.5, 528], [2409, 2409], color=INK, lw=3)
top.plot([811, 1091], [2409, 2409], color=INK, lw=3)
top.plot([245.5, 245.5], [2393, 2425], color=INK, lw=3)
top.plot([1091, 1091], [2393, 2425], color=INK, lw=3)
put(669.5, 2403, 'ORF 1 - 3414 aa', 24, weight='bold', style='italic')

for s, x, y in [('All', 657, 2501), ('Baikalian', 223, 2805), ('Siberian', 1082, 2805), ('European', 307, 3088), ('Far-Eastern', 1038, 3088)]:
    put(x, y, s, 32, weight='bold', style='italic')

for x, letters in zip([230, 354, 478, 605, 728], leg_aa):
    for y, a in zip([3246, 3296, 3345, 3395], letters):
        put(x, y, a, 22)
put(856, 3243, '\u2212', 22)
put(903, 3243, 'Convergent evolution-like: Title', 20.5, ha='left', color=RED)
put(903, 3292, 'Parallel evolution-like: Title', 20.5, ha='left', color=GREEN)
put(903, 3342, 'Other: Title', 20.5, ha='left')

fig.savefig('out.png', dpi=100)
